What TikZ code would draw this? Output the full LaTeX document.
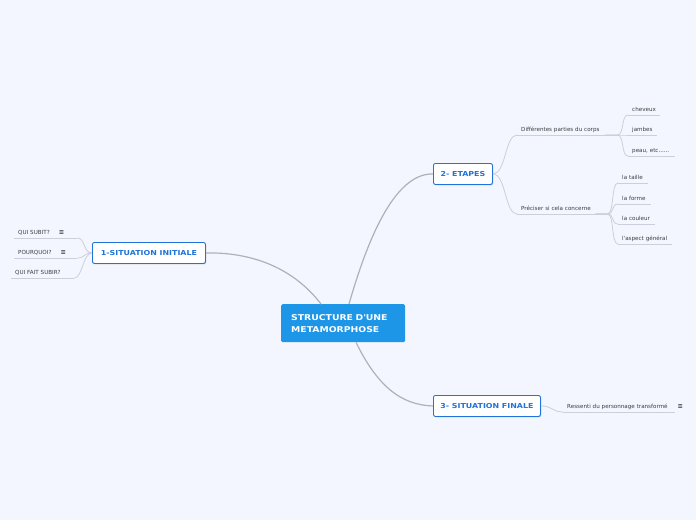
\documentclass[tikz,border=0pt]{standalone}
\usepackage{fontspec}
\setmainfont{DejaVu Sans}
\newfontfamily\widefont[FakeStretch=1.16]{DejaVu Sans}
\usetikzlibrary{shadows}
\newlength{\du}
\setlength{\du}{1pt}
\definecolor{bgcolor}{rgb}{0.953, 0.965, 0.996}
\definecolor{rootblue}{rgb}{0.118, 0.588, 0.910}
\definecolor{topicblue}{rgb}{0.122, 0.451, 0.855}
\definecolor{linegray}{rgb}{0.690, 0.690, 0.725}
\definecolor{leafgray}{rgb}{0.800, 0.812, 0.855}
\definecolor{leaftext}{rgb}{0.235, 0.235, 0.255}
\tikzset{
  rootnode/.style={fill=rootblue, rounded corners=1.5\du, text=white, anchor=north west,
    font=\widefont\bfseries\fontsize{8}{12}\selectfont, align=left, text width=104\du,
    inner xsep=10\du, inner ysep=0pt, minimum height=38\du},
  topicnode/.style={draw=topicblue, line width=0.9\du, fill=white, rounded corners=2\du,
    text=topicblue, font=\widefont\bfseries\fontsize{6.8}{8}\selectfont, anchor=north west,
    inner xsep=0pt, inner ysep=0pt, minimum height=21\du,
    drop shadow={shadow xshift=0.9\du, shadow yshift=-0.9\du, opacity=0.3}},
  leafnode/.style={anchor=south west, inner xsep=4\du, inner ysep=2.3\du, text height=4\du,
    text depth=1.2\du, font=\fontsize{5.6}{6.5}\selectfont, text=leaftext, align=left,
    execute at begin node=\hbox\bgroup, execute at end node=\egroup},
  mainline/.style={draw=linegray, line width=1.2\du},
  leafline/.style={draw=leafgray, line width=0.8\du},
}
\newcommand{\noteicon}{\textbf{\fontsize{6.4}{6}\selectfont ≡}}

\begin{document}
\begin{tikzpicture}[x=\du, y=-\du]
\fill[bgcolor] (0,0) rectangle (696,520);

% topics
\node[rootnode] (root) at (281,304) {STRUCTURE D\textquotesingle UNE\\METAMORPHOSE};
\node[topicnode, minimum width=113\du] (initiale) at (92,242) {1-SITUATION INITIALE};
\node[topicnode, minimum width=59\du] (etapes) at (433,163) {2- ETAPES};
\node[topicnode, minimum width=107\du] (finale) at (433,395) {3- SITUATION FINALE};

% leaves of 1
\node[leafnode, text width=55\du] (subit) at (14,238) {QUI SUBIT?\hspace{9\du}\noteicon};
\node[leafnode, text width=55\du] (pourquoi) at (14,258) {POURQUOI?\hspace{9\du}\noteicon};
\node[leafnode, text width=55\du] (faitsubir) at (11,278) {QUI FAIT SUBIR?};

% leaves of 2
\node[leafnode, text width=92\du] (parties) at (517,135) {Différentes parties du corps};
\node[leafnode, text width=24\du] (cheveux) at (628,115) {cheveux};
\node[leafnode, text width=21\du] (jambes) at (628,135) {jambes};
\node[leafnode, text width=39\du] (peau) at (628,156) {peau, etc......};
\node[leafnode, text width=82\du] (preciser) at (517,214) {Préciser si cela concerne};
\node[leafnode, text width=22\du] (taille) at (618,183) {la taille};
\node[leafnode, text width=25\du] (forme) at (618,204) {la forme};
\node[leafnode, text width=29\du] (couleur) at (618,224) {la couleur};
\node[leafnode, text width=46\du] (aspect) at (618,244) {l\textquotesingle aspect général};

% leaves of 3
\node[leafnode, text width=104\du, label={[text=leaftext, inner sep=0pt, xshift=2\du, yshift=0.5\du]east:\noteicon}] (ressenti) at (563,412) {Ressenti du personnage transformé};

% underlines
\foreach \n in {subit,pourquoi,faitsubir,parties,cheveux,jambes,peau,preciser,taille,forme,couleur,aspect,ressenti}
  \draw[leafline] (\n.south west) -- (\n.south east);

% main branches
\draw[mainline] (initiale.east) .. controls (255,252) and (295,270) .. ([xshift=40\du]root.north west);
\draw[mainline] ([xshift=68\du]root.north west) .. controls (366,245) and (393,173) .. (etapes.west);
\draw[mainline] ([xshift=75\du]root.south west) .. controls (377,385) and (400,405) .. (finale.west);

% sub branches
\foreach \n in {subit,pourquoi,faitsubir}
  \draw[leafline] (initiale.west) .. controls +(-9,0) and +(8,0) .. (\n.south east);
\foreach \n in {parties,preciser}
  \draw[leafline] (etapes.east) .. controls +(13,0) and +(-12,0) .. (\n.south west);
\foreach \n in {cheveux,jambes,peau}
  \draw[leafline] ([xshift=-12\du]parties.south east) -- (parties.south east) .. controls +(7,0) and +(-7,0) .. (\n.south west);
\foreach \n in {taille,forme,couleur,aspect}
  \draw[leafline] ([xshift=-12\du]preciser.south east) -- (preciser.south east) .. controls +(7,0) and +(-7,0) .. (\n.south west);
\draw[leafline] (finale.east) .. controls +(12,0) and +(-11,0) .. (ressenti.south west);
\end{tikzpicture}
\end{document}
